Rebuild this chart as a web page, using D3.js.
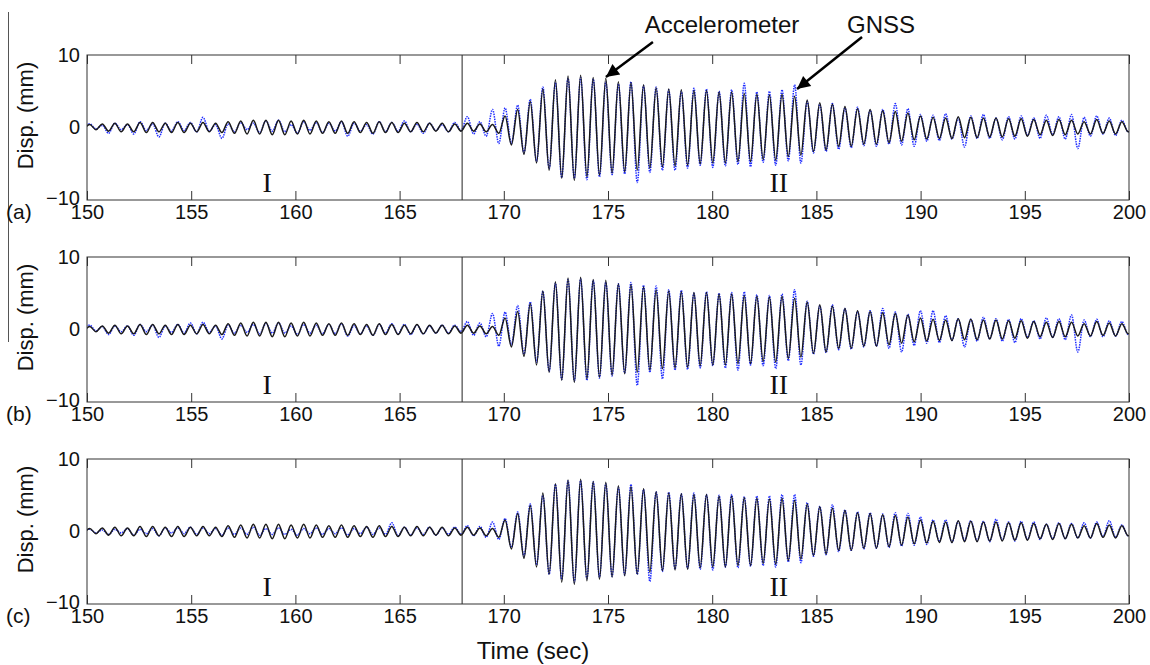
<!DOCTYPE html>
<html>
<head>
<meta charset="utf-8">
<script src="https://cdn.jsdelivr.net/npm/d3@7"></script>
<style>
  body { margin: 0; background: #fff; }
  text { font-family: Arial, "Liberation Sans", sans-serif; fill: #111; }
</style>
</head>
<body>
<div class="svg"></div>
<script>
// extrema of each record (peak, trough, peak ...), one every half period
var t0 = 149.828;
var halfPeriod = 0.302;

var accel = [-0.3,
  0.4,-0.3,0.5,-0.5,0.6,-0.6,0.5,-0.6,0.7,-0.7,
  0.7,-0.6,0.6,-0.7,0.7,-0.7,0.6,-0.6,0.7,-0.6,
  0.6,-0.7,0.8,-0.8,0.9,-0.9,1.0,-0.9,1.0,-1.0,
  1.0,-1.0,0.9,-0.9,1.0,-0.9,0.9,-0.8,0.8,-0.8,
  0.9,-0.8,0.8,-0.7,0.7,-0.8,0.8,-0.7,0.7,-0.7,
  0.6,-0.6,0.7,-0.6,0.6,-0.5,0.6,-0.6,0.5,-0.5,
  0.6,-0.5,0.5,-0.6,0.4,-0.8,1.6,-2.4,2.5,-3.7,
  3.6,-4.9,5.3,-5.9,6.6,-7.0,7.1,-7.3,7.2,-6.8,
  6.9,-6.6,6.8,-6.3,6.3,-6.1,6.2,-5.9,5.9,-5.6,
  5.5,-5.4,5.3,-5.3,5.2,-5.2,5.1,-5.0,5.1,-4.9,
  4.9,-4.9,4.9,-4.7,4.7,-4.7,4.6,-4.4,4.5,-4.5,
  4.6,-4.0,4.3,-3.8,3.8,-3.3,3.4,-3.1,3.2,-2.6,
  2.9,-2.6,2.6,-2.3,2.5,-2.3,2.3,-2.1,2.2,-1.9,
  2.0,-1.7,1.6,-1.6,1.4,-1.5,1.3,-1.5,1.5,-1.4,
  1.4,-1.4,1.3,-1.3,1.3,-1.3,1.2,-1.2,1.2,-1.2,
  1.1,-1.0,1.0,-1.1,1.1,-1.0,1.0,-0.9,0.8,-0.9,
  1.1,-0.8,0.9,-0.9,0.8,-0.6,0.7];

var gnssA = [0.3,
  0.5,-0.2,0.3,-0.8,0.6,-0.3,0.4,-0.9,0.8,-0.4,
  0.5,-1.3,0.6,-0.5,0.8,-0.4,0.7,-0.6,1.4,-0.5,
  0.4,-1.5,0.5,-0.6,0.7,-0.3,0.6,-0.7,0.9,-0.5,
  1.0,-0.6,0.4,-0.8,0.8,-0.4,0.7,-0.7,0.6,-0.5,
  0.8,-1.2,0.6,-0.5,0.4,-0.9,0.8,-0.6,0.7,-0.5,
  0.9,-0.6,0.5,-0.8,0.6,-0.4,0.4,-0.6,0.7,-0.4,
  1.5,-0.9,0.8,-1.2,2.5,-2.2,2.7,-2.2,3.1,-3.5,
  3.9,-4.7,5.6,-5.7,6.2,-6.9,6.8,-7.0,6.9,-7.2,
  6.7,-6.8,6.3,-6.5,6.0,-6.4,6.3,-7.6,5.8,-6.2,
  5.6,-5.9,5.2,-5.9,5.0,-5.6,5.4,-5.2,5.3,-5.5,
  5.0,-5.3,5.2,-5.1,6.1,-5.4,4.9,-4.8,5.0,-5.2,
  5.2,-4.6,5.9,-4.9,3.6,-3.5,3.2,-3.3,3.3,-3.0,
  2.7,-2.8,2.8,-2.5,2.4,-2.6,2.5,-2.3,3.3,-2.4,
  2.6,-2.6,1.8,-1.9,1.7,-1.8,1.9,-1.6,1.3,-2.7,
  1.6,-1.5,1.8,-1.5,1.3,-1.7,1.5,-1.6,1.6,-1.1,
  1.3,-1.5,1.7,-1.0,1.5,-1.6,1.8,-2.9,1.4,-1.2,
  1.6,-0.9,1.3,-1.1,1.0,-0.6,0.9];

var gnssB = [0.4,
  0.6,-0.2,0.4,-0.7,0.5,-0.3,0.5,-0.8,0.7,-0.3,
  0.6,-1.1,0.5,-0.4,0.7,-0.5,0.9,-0.6,1.0,-0.4,
  0.5,-1.3,0.6,-0.5,0.6,-0.4,0.7,-0.6,0.8,-0.5,
  0.9,-0.5,0.5,-0.7,0.7,-0.5,0.6,-0.6,0.7,-0.6,
  0.8,-0.9,0.5,-0.6,0.5,-0.8,0.7,-0.5,0.8,-0.6,
  0.7,-0.7,0.6,-0.6,0.5,-0.5,0.6,-0.5,0.6,-0.3,
  1.1,-0.8,0.9,-1.0,2.2,-2.3,2.4,-2.1,3.3,-3.4,
  3.8,-4.5,5.3,-5.8,6.4,-6.9,6.9,-7.1,7.0,-7.0,
  6.8,-6.7,6.5,-6.4,6.3,-6.0,6.5,-7.7,6.1,-5.9,
  6.0,-6.8,5.5,-5.6,5.4,-5.5,5.0,-5.3,5.2,-5.0,
  5.0,-5.3,5.1,-5.6,5.2,-4.9,4.8,-5.0,4.7,-5.4,
  4.9,-4.3,5.5,-4.9,3.9,-3.4,3.3,-3.2,3.4,-2.8,
  2.9,-2.7,2.5,-2.4,2.6,-2.3,2.9,-2.6,2.4,-3.1,
  2.1,-2.2,2.6,-1.9,2.6,-1.8,1.9,-1.5,1.5,-2.4,
  1.4,-1.6,1.7,-1.3,1.5,-1.6,1.4,-1.8,1.5,-1.1,
  1.2,-1.3,1.6,-1.1,1.5,-1.4,2.0,-3.1,1.3,-1.0,
  1.4,-1.0,1.2,-0.9,1.1,-0.7,1.0];

var gnssC = [0.2,
  0.3,-0.2,0.2,-0.4,0.3,-0.2,0.4,-0.5,0.3,-0.3,
  0.4,-0.6,0.5,-0.2,0.5,-0.3,0.6,-0.4,0.5,-0.3,
  0.4,-0.5,0.5,-0.4,0.5,-0.4,0.6,-0.5,0.4,-0.4,
  0.5,-0.4,0.3,-0.5,0.4,-0.3,0.5,-0.4,0.4,-0.3,
  0.5,-0.5,0.4,-0.3,0.6,-0.4,0.5,-0.4,1.2,-0.6,
  0.6,-0.5,0.5,-0.4,0.6,-0.5,0.5,-0.4,0.6,-0.4,
  0.8,-0.6,0.7,-0.8,1.3,-1.1,1.8,-2.2,2.7,-3.4,
  3.8,-4.6,5.0,-5.9,6.5,-6.6,7.0,-7.0,7.0,-6.5,
  6.9,-6.3,6.6,-6.2,6.1,-6.0,6.5,-5.9,5.8,-6.9,
  5.5,-5.5,5.4,-5.2,5.2,-5.1,5.3,-5.2,5.1,-5.3,
  5.0,-4.9,5.1,-5.0,4.8,-4.8,4.9,-4.7,4.9,-4.9,
  5.1,-4.2,5.1,-4.3,4.0,-3.4,3.5,-3.2,3.7,-2.8,
  3.0,-2.6,2.7,-2.4,2.6,-2.3,2.4,-2.2,2.6,-2.0,
  2.5,-1.9,2.0,-1.8,1.6,-1.4,1.6,-1.5,1.4,-1.2,
  1.5,-1.3,1.4,-1.4,1.7,-1.2,1.3,-1.3,1.4,-1.1,
  1.3,-1.1,1.0,-1.0,1.2,-1.0,1.1,-0.9,1.2,-0.9,
  1.3,-0.7,1.5,-0.8,0.9,-0.6,0.7];

var gnssSeries = [gnssA, gnssB, gnssC];
var panelLabels = ["(a)", "(b)", "(c)"];
var timeTicks = [150, 155, 160, 165, 170, 175, 180, 185, 190, 195, 200];
var dispTicks = [-10, 0, 10];
var eventTime = 168;
var phaseLabels = [{text: "I", t: 158.64}, {text: "II", t: 183.2}];

var W = 1150, H = 665;
var left = 87, right = 1129;
var panelTops = [55, 257, 459];
var panelH = 145;

var svg = d3.select("div.svg").append("svg")
  .attr("width", W).attr("height", H);

var x = d3.scaleLinear().domain([150, 200]).range([left, right]);

function toPoints(vals){
  return vals.map(function(v, i){ return {t: t0 + i * halfPeriod, v: v}; });
}

var defs = svg.append("defs");
defs.append("marker").attr("id", "head")
  .attr("viewBox", "0 0 10 10").attr("refX", 10).attr("refY", 5)
  .attr("markerWidth", 18).attr("markerHeight", 13)
  .attr("markerUnits", "userSpaceOnUse")
  .attr("orient", "auto")
  .append("path").attr("d", "M0,0L10,5L0,10Z").attr("fill", "#000");

// stray rule left over from the page crop
svg.append("line")
  .attr("x1", 8.5).attr("x2", 8.5).attr("y1", 12).attr("y2", 342)
  .attr("stroke", "#555").attr("stroke-width", 1);

panelTops.forEach(function(top, p){
  var bottom = top + panelH;
  var y = d3.scaleLinear().domain([-10, 10]).range([bottom, top]);
  var g = svg.append("g");

  g.append("clipPath").attr("id", "clip" + p)
    .append("rect").attr("x", left).attr("y", top)
    .attr("width", right - left).attr("height", panelH);

  var line = d3.line()
    .x(function(d){ return x(d.t); })
    .y(function(d){ return y(d.v); })
    .curve(d3.curveMonotoneX);

  var lines = g.append("g").attr("clip-path", "url(#clip" + p + ")");
  lines.append("path")
    .datum(toPoints(gnssSeries[p]))
    .attr("fill", "none")
    .attr("stroke", "#1f2cff")
    .attr("stroke-width", 1.5)
    .attr("stroke-dasharray", "1.5,1")
    .attr("d", line);
  lines.append("path")
    .datum(toPoints(accel))
    .attr("fill", "none")
    .attr("stroke", "#1a1a1a")
    .attr("stroke-width", 1.5)
    .attr("stroke-linejoin", "round")
    .attr("d", line);

  // event marker
  g.append("line")
    .attr("x1", x(eventTime)).attr("x2", x(eventTime))
    .attr("y1", top).attr("y2", bottom)
    .attr("stroke", "#222").attr("stroke-width", 1);

  phaseLabels.forEach(function(l){
    g.append("text")
      .attr("x", x(l.t)).attr("y", y(-8.9))
      .attr("text-anchor", "middle")
      .style("font-family", "'Times New Roman', 'Liberation Serif', serif")
      .style("font-size", "28px")
      .text(l.text);
  });

  // axes
  var xb = g.append("g")
    .attr("transform", "translate(0," + bottom + ")")
    .call(d3.axisBottom(x).tickValues(timeTicks).tickSizeInner(-9).tickSizeOuter(0).tickPadding(5));
  xb.selectAll("text").style("font-size", "20px");
  var xt = g.append("g")
    .attr("transform", "translate(0," + top + ")")
    .call(d3.axisTop(x).tickValues(timeTicks).tickSizeInner(-9).tickSizeOuter(0).tickFormat(""));
  var ya = g.append("g")
    .attr("transform", "translate(" + left + ",0)")
    .call(d3.axisLeft(y).tickValues(dispTicks).tickSize(0).tickPadding(7));
  ya.selectAll("text").style("font-size", "20px");
  ya.selectAll("text").filter(function(d){ return d === -10; }).attr("dy", "0.2em");
  [xb, xt, ya].forEach(function(a){
    a.select(".domain").remove();
    a.selectAll("line").attr("stroke", "#333");
  });

  g.append("rect")
    .attr("x", left).attr("y", top)
    .attr("width", right - left).attr("height", panelH)
    .attr("fill", "none").attr("stroke", "#333").attr("stroke-width", 1);

  g.append("text")
    .attr("transform", "translate(33," + (top + panelH / 2 - 12) + ") rotate(-90)")
    .attr("text-anchor", "middle")
    .style("font-size", "22px")
    .text("Disp. (mm)");

  g.append("text")
    .attr("x", 6).attr("y", bottom + 19)
    .style("font-size", "21px")
    .text(panelLabels[p]);

  if (p === 0) {
    var marks = [
      {text: "Accelerometer", tx: 722, t: 174.9, v: 6.97, dx: 47, dy: -35},
      {text: "GNSS", tx: 881, t: 184.07, v: 5.3, dx: 65, dy: -52}
    ];
    marks.forEach(function(m){
      var px = x(m.t), py = y(m.v);
      g.append("line")
        .attr("x1", px + m.dx).attr("y1", py + m.dy)
        .attr("x2", px).attr("y2", py)
        .attr("stroke", "#000").attr("stroke-width", 2.5)
        .attr("marker-end", "url(#head)");
      g.append("text")
        .attr("x", m.tx).attr("y", 33)
        .attr("text-anchor", "middle")
        .style("font-size", "24px")
        .text(m.text);
    });
  }
});

svg.append("text")
  .attr("x", 533).attr("y", 659)
  .attr("text-anchor", "middle")
  .style("font-size", "24px")
  .text("Time (sec)");
</script>
</body>
</html>
